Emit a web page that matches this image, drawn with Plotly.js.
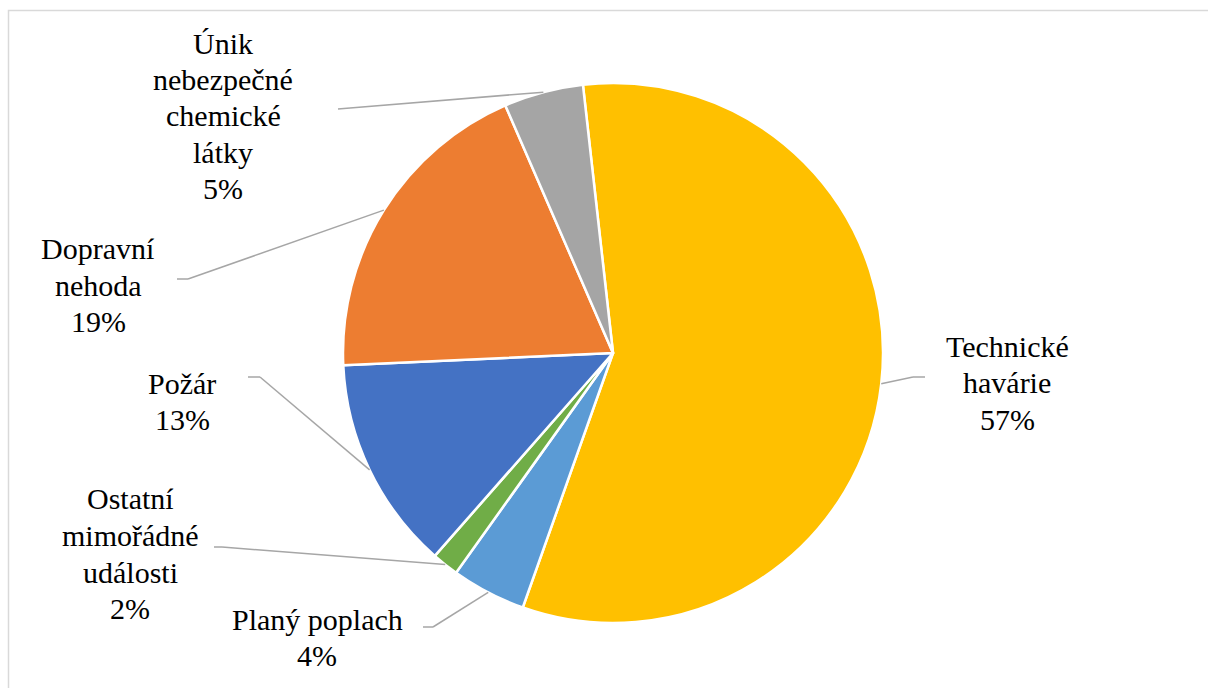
<!DOCTYPE html>
<html>
<head>
<meta charset="utf-8">
<script src="https://cdn.plot.ly/plotly-3.0.1.min.js"></script>
<style>html,body{margin:0;padding:0;background:#fff;}#chart{width:1208px;height:688px;}</style>
</head>
<body>
<div id="chart"></div>
<script>
// ---- data ----
const categories = ["Technické<br>havárie", "Planý poplach", "Ostatní<br>mimořádné<br>události", "Požár", "Dopravní<br>nehoda", "Únik<br>nebezpečné<br>chemické<br>látky"];
const shares = [57.2, 4.45, 1.6, 12.8, 19.2, 4.75];
const colors = ["#FFC000", "#5B9BD5", "#70AD47", "#4472C4", "#ED7D31", "#A5A5A5"];

// ---- layout constants (pixels) ----
const W = 1208, H = 688;
const CX = 613, CY = 353, R = 270;
const ROT = -6.4;
const FS = 30, LINE = 36.5, BASE_OFF = 9;
// label centre x and first-line baseline y, leader elbow/end points
const labelPos = [[1007, 355], [317, 628], [130, 508], [182, 392], [98, 258], [223, 52]];
const elbows = [[913, 377], [433, 627], [222, 547], [260, 377], [188, 279], [350, 108]];
const ends = [[925, 377], [423, 627], [214, 547], [248, 377], [177, 279], [338, 109]];

const px = x => x / W, py = y => 1 - y / H;
const total = shares.reduce((a, b) => a + b, 0);

const trace = {
  type: "pie",
  values: shares,
  labels: categories,
  sort: false,
  direction: "clockwise",
  rotation: ROT,
  textinfo: "none",
  hoverinfo: "label+percent",
  marker: {colors: colors, line: {color: "#FFFFFF", width: 2.5}},
  domain: {x: [px(CX - R), px(CX + R)], y: [py(CY + R), py(CY - R)]},
  showlegend: false
};

const annotations = [];
const shapes = [];
let acc = ROT;
shares.forEach((v, i) => {
  const ang = v / total * 360;
  const mid = (acc + ang / 2) * Math.PI / 180;
  acc += ang;
  const ix = CX + R * Math.sin(mid), iy = CY - R * Math.cos(mid);
  const pct = Math.round(v / total * 100) + "%";
  const lines = categories[i].split("<br>").concat([pct]);
  lines.forEach((t, k) => {
    annotations.push({
      xref: "paper", yref: "paper",
      x: px(labelPos[i][0]), y: py(labelPos[i][1] + k * LINE - BASE_OFF),
      xanchor: "center", yanchor: "middle", showarrow: false, align: "center",
      text: t,
      font: {family: "Liberation Serif", size: FS, color: "#000000"}
    });
  });
  const lc = {color: "#A6A6A6", width: 1.5};
  shapes.push({type: "line", xref: "paper", yref: "paper", x0: px(ix), y0: py(iy), x1: px(elbows[i][0]), y1: py(elbows[i][1]), line: lc});
  shapes.push({type: "line", xref: "paper", yref: "paper", x0: px(elbows[i][0]), y0: py(elbows[i][1]), x1: px(ends[i][0]), y1: py(ends[i][1]), line: lc});
});
// chart-area border
shapes.push({type: "rect", xref: "paper", yref: "paper", x0: px(8.5), y0: py(10.5), x1: px(W + 20), y1: py(H + 20), line: {color: "#D9D9D9", width: 1.5}, fillcolor: "rgba(0,0,0,0)", layer: "below"});

const layout = {
  width: W, height: H,
  margin: {l: 0, r: 0, t: 0, b: 0},
  paper_bgcolor: "#FFFFFF",
  font: {family: "Liberation Serif"},
  annotations: annotations,
  shapes: shapes,
  showlegend: false
};
Plotly.newPlot("chart", [trace], layout, {displayModeBar: false, staticPlot: true});
</script>
</body>
</html>
